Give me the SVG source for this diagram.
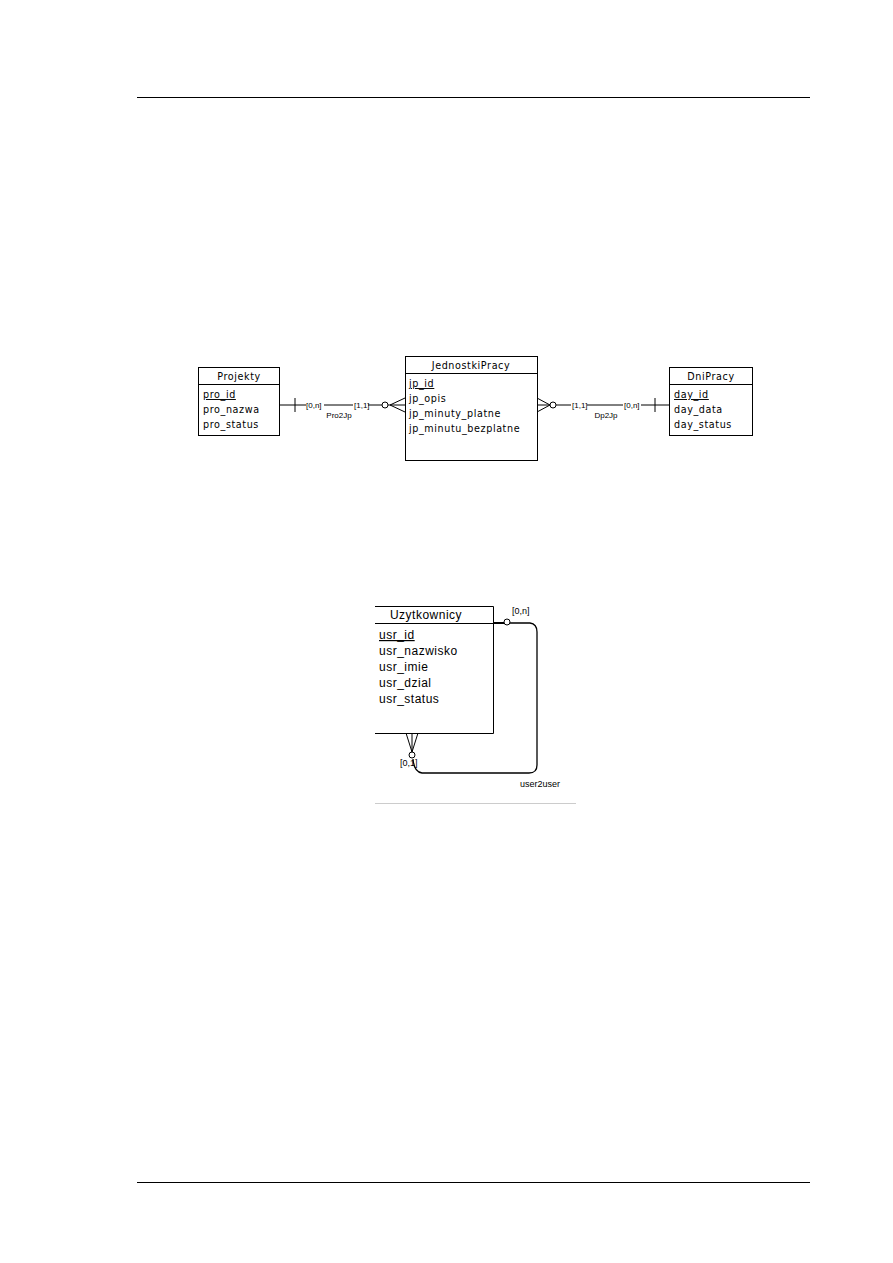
<svg xmlns="http://www.w3.org/2000/svg" width="893" height="1263" viewBox="0 0 893 1263">
<style>
.bg{fill:#fff}
.box{fill:#fff;stroke:#000;stroke-width:1}
.ln{stroke:#000;stroke-width:1;fill:none}
.t{font-family:"DejaVu Sans",Verdana,sans-serif;font-size:9.6px;letter-spacing:0.6px;fill:#000}
.tc{text-anchor:middle}
.ul{text-decoration:underline}
.s{font-family:"Liberation Sans",Arial,sans-serif;font-size:8px;fill:#000}
.u{font-family:"Liberation Sans",Arial,sans-serif;font-size:12px;letter-spacing:0.5px;fill:#000}
</style>
<rect class="bg" width="893" height="1263"/>
<line x1="137" y1="97.5" x2="810" y2="97.5" stroke="#000" stroke-width="1.2"/>
<line x1="137" y1="1182.5" x2="810" y2="1182.5" stroke="#000" stroke-width="1.2"/>

<g id="connectors">
  <g id="pro2jp">
    <line class="ln" x1="279" y1="405" x2="306" y2="405"/>
    <line class="ln" x1="295" y1="398" x2="295" y2="412"/>
    <text class="s" x="306" y="408">[0,n]</text>
    <line class="ln" x1="324" y1="405" x2="353" y2="405"/>
    <text class="s" x="354" y="408">[1,1]</text>
    <line class="ln" x1="368" y1="405" x2="382" y2="405"/>
    <circle class="ln" cx="385" cy="405" r="3"/>
    <line class="ln" x1="388" y1="405" x2="405" y2="405"/>
    <line class="ln" x1="390" y1="405" x2="405" y2="398"/>
    <line class="ln" x1="390" y1="405" x2="405" y2="412"/>
    <text class="s tc" x="339" y="418">Pro2Jp</text>
  </g>
  <g id="dp2jp">
    <line class="ln" x1="537" y1="405" x2="550" y2="405"/>
    <line class="ln" x1="537" y1="398" x2="550" y2="405"/>
    <line class="ln" x1="537" y1="412" x2="550" y2="405"/>
    <circle class="ln" cx="553" cy="405" r="3"/>
    <line class="ln" x1="556" y1="405" x2="571" y2="405"/>
    <text class="s" x="572" y="408">[1,1]</text>
    <line class="ln" x1="587" y1="405" x2="623" y2="405"/>
    <text class="s" x="624" y="408">[0,n]</text>
    <line class="ln" x1="641" y1="405" x2="669" y2="405"/>
    <line class="ln" x1="655" y1="398" x2="655" y2="412"/>
    <text class="s tc" x="606" y="418">Dp2Jp</text>
  </g>
  <g id="user2user">
    <line x1="493" y1="623" x2="504" y2="623" stroke="#000" stroke-width="2"/>
    <circle class="ln" cx="507" cy="622" r="3"/>
    <path d="M510 623 H530 Q537 624 537 632 V765 Q537 773 529 773 H422 Q414 772 413 759" fill="none" stroke="#000" stroke-width="1.3"/>
    <circle class="ln" cx="412" cy="755" r="3"/>
    <line class="ln" x1="406" y1="733" x2="412" y2="752"/>
    <line class="ln" x1="412" y1="733" x2="412" y2="752"/>
    <line class="ln" x1="418" y1="733" x2="412" y2="752"/>
    <text class="s" x="512" y="614" style="font-size:9px">[0,n]</text>
    <text class="s" x="400" y="766" style="font-size:9px">[0,1]</text>
    <text class="s" x="520" y="787" style="font-size:9px">user2user</text>
  </g>
</g>

<g id="Projekty">
  <rect class="box" x="198.5" y="367.5" width="81" height="68"/>
  <line class="ln" x1="198.5" y1="384.5" x2="279.5" y2="384.5"/>
  <text class="t tc" x="239" y="380">Projekty</text>
  <text class="t ul" x="203" y="398">pro_id</text>
  <text class="t" x="203" y="413">pro_nazwa</text>
  <text class="t" x="203" y="428">pro_status</text>
</g>

<g id="JednostkiPracy">
  <rect class="box" x="405.5" y="356.5" width="132" height="104"/>
  <line class="ln" x1="405.5" y1="373.5" x2="537.5" y2="373.5"/>
  <text class="t tc" x="471" y="369">JednostkiPracy</text>
  <text class="t ul" x="409" y="387">jp_id</text>
  <text class="t" x="409" y="402">jp_opis</text>
  <text class="t" x="409" y="417">jp_minuty_platne</text>
  <text class="t" x="409" y="432">jp_minutu_bezplatne</text>
</g>

<g id="DniPracy">
  <rect class="box" x="669.5" y="367.5" width="83" height="68"/>
  <line class="ln" x1="669.5" y1="384.5" x2="752.5" y2="384.5"/>
  <text class="t tc" x="711" y="380">DniPracy</text>
  <text class="t ul" x="674" y="398">day_id</text>
  <text class="t" x="674" y="413">day_data</text>
  <text class="t" x="674" y="428">day_status</text>
</g>

<g id="Uzytkownicy">
  <path class="ln" d="M375 606.5 H493.5 V733.5 H375"/>
  <line class="ln" x1="375" y1="623.5" x2="493.5" y2="623.5"/>
  <text class="u tc" x="426" y="619">Uzytkownicy</text>
  <text class="u ul" x="379" y="639">usr_id</text>
  <text class="u" x="379" y="655">usr_nazwisko</text>
  <text class="u" x="379" y="671">usr_imie</text>
  <text class="u" x="379" y="687">usr_dzial</text>
  <text class="u" x="379" y="703">usr_status</text>
</g>
<line x1="375" y1="803.5" x2="576" y2="803.5" stroke="#ccc" stroke-width="1"/>
</svg>
